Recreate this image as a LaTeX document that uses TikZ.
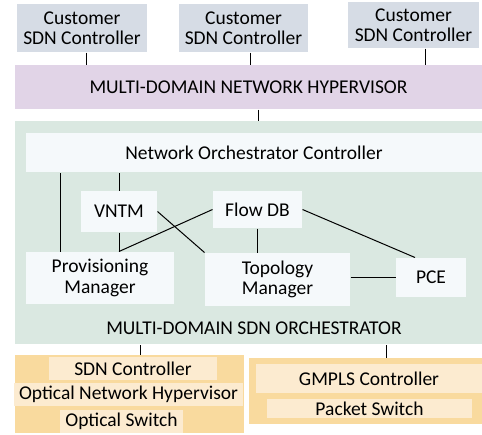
\documentclass[tikz,border=0pt]{standalone}
\usepackage{fontspec}
\setmainfont{Carlito}
\definecolor{custblue}{HTML}{D6DCE5}
\definecolor{hyppurple}{HTML}{E1D4E7}
\definecolor{orchgreen}{HTML}{DAE8E1}
\definecolor{boxwhite}{HTML}{F5F9FB}
\definecolor{domorange}{HTML}{F9DA9E}
\definecolor{domlight}{HTML}{FCEBD0}
\begin{document}
\begin{tikzpicture}[x=1pt, y=-1pt, line width=1pt,
    every node/.style={inner sep=0pt, align=center, font=\fontsize{19.5}{20.5}\selectfont},
    cust/.style={fill=custblue},
    hyp/.style={fill=hyppurple},
    orchbg/.style={fill=orchgreen},
    inbox/.style={fill=boxwhite},
    dombg/.style={fill=domorange},
    domin/.style={fill=domlight}]
    \useasboundingbox (0,0) rectangle (482,434);
    % customer controllers
    \node[cust, minimum width=130pt, minimum height=48pt] (cust1) at (82,28) {Customer\\SDN Controller};
    \node[cust, minimum width=129pt, minimum height=48pt] (cust2) at (243.5,28) {Customer\\SDN Controller};
    \node[cust, minimum width=131pt, minimum height=46pt] (cust3) at (413.5,25) {Customer\\SDN Controller};
    \node[hyp, minimum width=467pt, minimum height=44pt] (hyper) at (248.5,87) {MULTI-DOMAIN NETWORK HYPERVISOR};
    \draw ([xshift=4pt]cust1.south) -- ([xshift=4pt]cust1.south |- hyper.north);
    \draw ([xshift=6.5pt]cust2.south) -- ([xshift=6.5pt]cust2.south |- hyper.north);
    \draw ([xshift=11.5pt]cust3.south) -- ([xshift=11.5pt]cust3.south |- hyper.north);
    % orchestrator
    \node[orchbg, minimum width=467pt, minimum height=223pt] (orch) at (248.5,232.5) {};
    \draw ([xshift=9.5pt]hyper.south) -- ([xshift=9.5pt]hyper.south |- orch.north);
    \node (orchlabel) at (254,328) {MULTI-DOMAIN SDN ORCHESTRATOR};
    \node[inbox, minimum width=456pt, minimum height=39pt] (noc) at (254,152.5) {Network Orchestrator Controller};
    \node[inbox, minimum width=76pt, minimum height=41pt] (vntm) at (119,211.5) {VNTM};
    \node[inbox, minimum width=89pt, minimum height=37pt] (flowdb) at (257.5,209.5) {Flow DB};
    \node[inbox, minimum width=148pt, minimum height=52pt] (prov) at (100,278) {Provisioning\\Manager};
    \node[inbox, minimum width=145pt, minimum height=53pt] (topo) at (277.5,279.5) {Topology\\Manager};
    \node[inbox, minimum width=70pt, minimum height=39pt] (pce) at (431,277.5) {PCE};
    \draw ([xshift=-40pt]prov.north) -- ([xshift=-40pt]prov.north |- noc.south);
    \draw (vntm.north) -- (vntm.north |- noc.south);
    \draw (vntm.south) -- (vntm.south |- prov.north);
    \draw (flowdb.west) -- (vntm.south |- prov.north);
    \draw (vntm.east) -- (topo.north west);
    \draw (flowdb.south) -- (flowdb.south |- topo.north);
    \draw (flowdb.east) -- ([xshift=-16pt]pce.north);
    \draw (pce.west -| topo.east) -- (pce.west);
    % domains
    \node[dombg, minimum width=229pt, minimum height=78pt] (ldom) at (129.5,394) {};
    \node[domin, minimum width=168pt, minimum height=23pt] (sdnc) at (133,368.5) {SDN Controller};
    \node[domin, minimum width=229pt, minimum height=23pt] (onh) at (128.5,394.5) {Optical Network Hypervisor};
    \node[domin, minimum width=123pt, minimum height=23pt] (osw) at (121.5,421.5) {Optical Switch};
    \node[dombg, minimum width=233pt, minimum height=66pt] (rdom) at (365.5,391) {};
    \node[domin, minimum width=226pt, minimum height=29pt] (gmpls) at (369,378.5) {GMPLS Controller};
    \node[domin, minimum width=205pt, minimum height=19pt] (psw) at (369.5,408.5) {Packet Switch};
    \draw ([xshift=10.5pt]ldom.north) -- ([xshift=10.5pt]ldom.north |- orch.south);
    \draw ([xshift=20.5pt]rdom.north) -- ([xshift=20.5pt]rdom.north |- orch.south);
\end{tikzpicture}
\end{document}
